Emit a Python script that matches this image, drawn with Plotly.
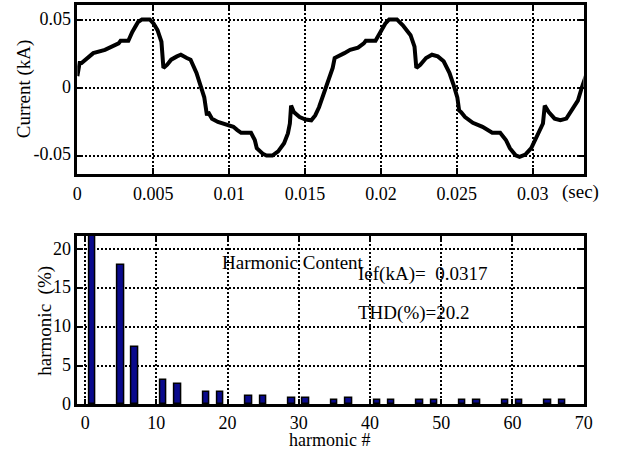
import plotly.graph_objects as go

# ---- current waveform (time in s, current in kA) ----
time_s = [0.0, 0.00015, 0.00028, 0.00079, 0.00105, 0.00182, 0.00233, 0.00272, 0.00285,
          0.00336, 0.00362, 0.00400, 0.00426, 0.00477, 0.00503, 0.00528, 0.00554, 0.00567,
          0.00592, 0.00618, 0.00656, 0.00682, 0.00721, 0.00746, 0.00785, 0.00810, 0.00836,
          0.00849, 0.00854, 0.00862, 0.00887, 0.00926, 0.00977, 0.01028, 0.01054, 0.01079,
          0.01144, 0.01169, 0.01182, 0.01221, 0.01246, 0.01285, 0.01323, 0.01362, 0.01387,
          0.01400, 0.01408, 0.01426, 0.01464, 0.01503, 0.01541, 0.01567, 0.01592, 0.01631,
          0.01656, 0.01682, 0.01695, 0.01721, 0.01759, 0.01797, 0.01849, 0.01887, 0.01900,
          0.01964, 0.01990, 0.02028, 0.02054, 0.02105, 0.02144, 0.02195, 0.02221, 0.02233,
          0.02259, 0.02297, 0.02336, 0.02374, 0.02413, 0.02451, 0.02477, 0.02503, 0.02515,
          0.02528, 0.02554, 0.02605, 0.02669, 0.02708, 0.02733, 0.02785, 0.02823, 0.02849,
          0.02887, 0.02913, 0.02951, 0.02990, 0.03028, 0.03067, 0.03079, 0.03105, 0.03144,
          0.03182, 0.03221, 0.03259, 0.03297, 0.03323, 0.03349]
current_kA = [0.0089, 0.0186, 0.0186, 0.0234, 0.0258, 0.0282, 0.0306, 0.0330, 0.0349,
              0.0349, 0.0414, 0.0487, 0.0506, 0.0506, 0.0475, 0.0427, 0.0342, 0.0149,
              0.0173, 0.0210, 0.0234, 0.0246, 0.0222, 0.0210, 0.0113, 0.0029, -0.0067,
              -0.0164, -0.0200, -0.0176, -0.0224, -0.0248, -0.0267, -0.0284, -0.0308, -0.0328,
              -0.0328, -0.0381, -0.0441, -0.0482, -0.0496, -0.0496, -0.0465, -0.0405, -0.0333,
              -0.0260, -0.0128, -0.0176, -0.0212, -0.0231, -0.0236, -0.0200, -0.0140, -0.0019,
              0.0053, 0.0149, 0.0222, 0.0234, 0.0258, 0.0282, 0.0299, 0.0330, 0.0349,
              0.0349, 0.0402, 0.0475, 0.0506, 0.0506, 0.0463, 0.0390, 0.0306, 0.0149,
              0.0173, 0.0222, 0.0246, 0.0234, 0.0198, 0.0113, 0.0029, -0.0067, -0.0164,
              -0.0176, -0.0212, -0.0255, -0.0284, -0.0308, -0.0328, -0.0328, -0.0381, -0.0441,
              -0.0494, -0.0506, -0.0489, -0.0441, -0.0357, -0.0260, -0.0128, -0.0176, -0.0224,
              -0.0236, -0.0224, -0.0164, -0.0092, 0.0005, 0.0089]

# ---- harmonic spectrum (% of fundamental) ----
harmonic_order = [1, 5, 7, 11, 13, 17, 19, 23, 25, 29, 31, 35, 37, 41, 43,
                  47, 49, 53, 55, 59, 61, 65, 67]
harmonic_pct = [100, 18.0, 7.4, 3.1, 2.6, 1.6, 1.6, 1.1, 1.1, 0.8, 0.8, 0.55, 0.8, 0.55, 0.55,
                0.55, 0.55, 0.55, 0.55, 0.55, 0.55, 0.55, 0.55]

# ---- ticks ----
t_ticks = [0, 0.005, 0.01, 0.015, 0.02, 0.025, 0.03]
t_ticklabels = ["0", "0.005", "0.01", "0.015", "0.02", "0.025", "0.03"]
i_ticks = [-0.05, 0, 0.05]
i_ticklabels = ["-0.05", "0", "0.05"]
h_ticks = [0, 10, 20, 30, 40, 50, 60, 70]
p_ticks = [0, 5, 10, 15, 20]

i_rms_kA = 0.0317
thd_pct = 20.2

FONT = "Liberation Serif"
W, H = 620, 461

fig = go.Figure()
fig.add_trace(go.Scatter(x=time_s, y=current_kA, mode="lines",
                         line=dict(color="black", width=4), xaxis="x", yaxis="y",
                         showlegend=False, hoverinfo="skip"))
fig.add_trace(go.Bar(x=harmonic_order, y=harmonic_pct, width=0.9,
                     marker=dict(color="#0a0a8c", line=dict(color="black", width=1.5)),
                     xaxis="x2", yaxis="y2", showlegend=False))

xdom = [74 / W, 592 / W]
top_dom = [1 - 177 / H, 1 - 5 / H]
bot_dom = [1 - 412.3 / H, 1 - 240.7 / H]

axis_common = dict(showline=True, linecolor="black", linewidth=2.5, mirror="ticks",
                   ticks="inside", ticklen=6, tickwidth=2, tickcolor="black",
                   showgrid=True, gridcolor="black", gridwidth=1.6, griddash="2px,2px",
                   zeroline=False, tickfont=dict(family=FONT, size=18, color="black"))

fig.update_layout(
    width=W, height=H,
    margin=dict(l=0, r=0, t=0, b=0),
    paper_bgcolor="white", plot_bgcolor="white",
    font=dict(family=FONT, size=18, color="black"),
    bargap=0,
    xaxis=dict(domain=xdom, anchor="y", range=[0, 0.03335], tickmode="array",
               tickvals=t_ticks, ticktext=t_ticklabels, ticklabelstandoff=2,
               **axis_common),
    yaxis=dict(domain=top_dom, anchor="x", range=[-0.0628, 0.0613], tickmode="array",
               tickvals=i_ticks, ticktext=i_ticklabels, ticklabelshift=-2,
               **axis_common),
    xaxis2=dict(domain=xdom, anchor="y2", range=[-1.1, 70], tickmode="array",
                tickvals=h_ticks, ticklabelstandoff=0, **axis_common),
    yaxis2=dict(domain=bot_dom, anchor="x2", range=[0, 21.72], tickmode="array",
                tickvals=p_ticks, ticklabelshift=-1, **axis_common),
)

ann_font = dict(family=FONT, size=19, color="black")


def label(text, x, y, xref="paper", yref="paper", angle=0, xanchor="center", size=19):
    fig.add_annotation(text=text, textangle=angle, xref=xref, yref=yref, x=x, y=y,
                       xanchor=xanchor, yanchor="middle", showarrow=False,
                       font=dict(ann_font, size=size))


# axis titles placed in figure pixels
label("Current (kA)", 19.5 / W, 1 - 91 / H, angle=-90)
label("(sec)", 589 / W, 1 - 196 / H)
label("harmonic\u00a0 (%)", 41 / W, 1 - 327 / H, angle=-90)
label("harmonic #", 332 / W, 1 - 449 / H, size=18)

# spectrum summary inside the lower panel
label("Harmonic Content", 18.9, 18.3, "x2", "y2", xanchor="left")
label(f"Ief(kA)=\u00a0 {i_rms_kA}", 38.0, 16.8, "x2", "y2", xanchor="left")
label(f"THD(%)={thd_pct}", 38.0, 11.75, "x2", "y2", xanchor="left")

fig.write_html("out.html")
